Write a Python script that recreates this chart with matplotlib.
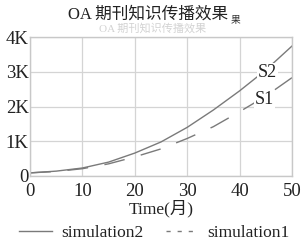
import matplotlib.pyplot as plt
from matplotlib.lines import Line2D

plt.rcParams['font.family'] = ['Liberation Serif', 'Noto Sans CJK SC']

# months and simulated knowledge spread
months = [0, 5, 10, 15, 20, 25, 30, 35, 40, 45, 50]
sim2 = [90, 140, 230, 400, 660, 980, 1400, 1900, 2450, 3050, 3740]
sim1 = [90, 130, 210, 350, 550, 780, 1080, 1420, 1850, 2300, 2830]
yticks = [0, 1000, 2000, 3000, 4000]
ylabels = ['0', '1K', '2K', '3K', '4K']

fig = plt.figure(figsize=(3.06, 2.46), dpi=100)
ax = fig.add_axes([30 / 306, 1 - 176 / 246, 262 / 306, 139 / 246])

line_col = '#7a7a7a'
txt_col = '#222222'
ax.plot(months, sim2, color=line_col, lw=1.0)
ax.plot(months, sim1, color=line_col, lw=1.0, dashes=(15, 12))

ax.set_xlim(0, 50)
ax.set_ylim(0, 4000)
ax.set_xticks([0, 10, 20, 30, 40, 50])
ax.set_yticks(yticks)
ax.set_yticklabels(ylabels)
ax.tick_params(length=0, labelsize=13.5, colors=txt_col)
ax.tick_params(axis='x', pad=5)
ax.tick_params(axis='y', pad=1)
ax.grid(True, color='#d4d4d4', lw=0.9)
for s in ax.spines.values():
    s.set_color('#c8c8c8')
    s.set_linewidth(1.0)

box = dict(facecolor='white', edgecolor='none', pad=0.5)
ax.text(45.3, 2980, 'S2', fontsize=13, ha='center', va='center', color=txt_col, bbox=box)
ax.text(44.8, 2190, 'S1', fontsize=13, ha='center', va='center', color=txt_col, bbox=box)

ax.set_xlabel('Time(月)', fontsize=12.5, labelpad=0, color=txt_col)

# title plus faint ghost of the caption underneath
fig.text(0.485, 1 - 15 / 246, 'OA 期刊知识传播效果', fontsize=12, ha='center',
         va='center', color=txt_col)
fig.text(0.50, 1 - 28 / 246, 'OA 期刊知识传播效果', fontsize=8, ha='center',
         va='center', color=txt_col, alpha=0.2)
fig.text(236 / 306, 1 - 21 / 246, '果', fontsize=7, ha='center',
         va='center', color='#333333')

handles = [Line2D([], [], color=line_col, lw=1.0),
           Line2D([], [], color=line_col, lw=1.0, dashes=(3, 5))]
fig.legend(handles, ['simulation2', 'simulation1'], loc='center',
           bbox_to_anchor=(0.505, 1 - 233 / 246), ncol=2, frameon=False,
           fontsize=12.5, handlelength=1.9, columnspacing=1.3,
           handletextpad=0.5, labelcolor=txt_col)

fig.savefig('out.png', dpi=100)
